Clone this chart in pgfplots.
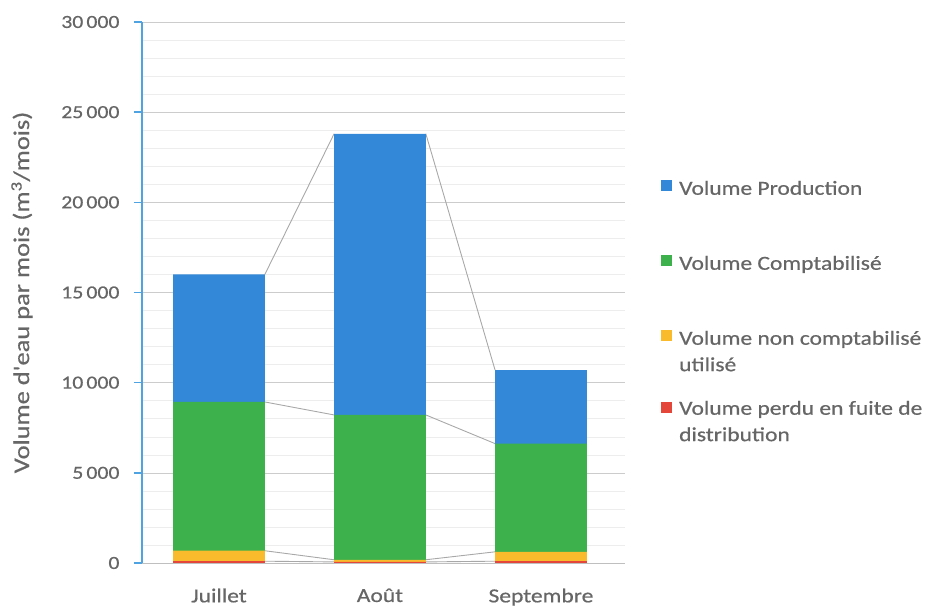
\documentclass[border=0pt]{standalone}
\usepackage{fontspec}
\setmainfont{Carlito}
\newfontfamily\wf[FakeStretch=1.18,FakeBold=0.6]{Carlito}
\usepackage{pgfplots}
\pgfplotsset{compat=1.18}
\definecolor{cblue}{HTML}{3488D8}
\definecolor{cgreen}{HTML}{3DB14B}
\definecolor{corange}{HTML}{F9BB2B}
\definecolor{cred}{HTML}{E5463A}
\definecolor{ctext}{HTML}{666666}
\definecolor{caxis}{HTML}{4FA3E0}
\definecolor{cseries}{HTML}{A8A8A8}
\begin{document}
\begin{tikzpicture}
\useasboundingbox (-142bp,-48bp) rectangle (809bp,563bp);
\begin{axis}[
  at={(0,0)}, anchor=south west,
  scale only axis, width=483bp, height=541bp,
  xmin=-0.478, xmax=2.522, ymin=0, ymax=30000,
  ybar, bar width=0.57, bar shift=0pt,
  xtick={0,1,2}, xticklabels={Juillet,Août,Septembre},
  ytick={0,5000,...,30000},
  scaled y ticks=false,
  minor y tick num=4,
  ymajorgrids, yminorgrids,
  major grid style={black!20, line width=0.6pt},
  minor grid style={black!7, line width=0.5pt},
  separate axis lines,
  axis x line*=bottom, axis y line*=left,
  every outer x axis line/.append style={draw=black!25, line width=0.7pt},
  every outer y axis line/.append style={draw=caxis, line width=1.8pt},
  xtick style={draw=none},
  every y tick/.append style={draw=caxis, line width=1.5pt},
  major tick length=8bp, minor tick length=0pt, tick align=outside,
  /pgf/number format/1000 sep={\,},
  /pgf/number format/assume math mode=true,
  yticklabel style={font=\wf\fontsize{18.5}{21}\selectfont, text=ctext, xshift=-11bp},
  xticklabel style={font=\wf\fontsize{20}{24}\selectfont, text=ctext, yshift=-14bp},
  ylabel={Volume d'eau par mois (m\textsuperscript{3}/mois)},
  ylabel style={at={(axis description cs:-0.2484,0.5)}, anchor=center, font=\wf\fontsize{22.5}{26}\selectfont, text=ctext},
  legend style={at={(axis description cs:1.0745,0.718)}, anchor=north west, draw=none, fill=none, inner sep=0pt,
    font=\wf\fontsize{20}{26.5}\selectfont, text=ctext, row sep=53.5bp, column sep=7bp,
    nodes={inner sep=0pt},
    cells={anchor=west}},
]
% series lines
\addplot[sharp plot, cseries, line width=0.9pt, forget plot, unbounded coords=jump] coordinates {(0.285,16000) (0.715,23800) (1,nan) (1.285,23800) (1.715,10700)};
\addplot[sharp plot, cseries, line width=0.9pt, forget plot, unbounded coords=jump] coordinates {(0.285,8930) (0.715,8210) (1,nan) (1.285,8210) (1.715,6620)};
\addplot[sharp plot, cseries, line width=0.9pt, forget plot, unbounded coords=jump] coordinates {(0.285,680) (0.715,180) (1,nan) (1.285,180) (1.715,620)};
\addplot[sharp plot, cseries, line width=0.9pt, forget plot, unbounded coords=jump] coordinates {(0.285,100) (0.715,60) (1,nan) (1.285,60) (1.715,100)};
% bars (cumulative heights, drawn back to front)
\addplot[fill=cblue, draw=none, legend image code/.code={\fill[cblue] (0bp,-5.5bp) rectangle (11bp,5.5bp);}] coordinates {(0,16000) (1,23800) (2,10700)};
\addplot[fill=cgreen, draw=none, legend image code/.code={\fill[cgreen] (0bp,-5.5bp) rectangle (11bp,5.5bp);}] coordinates {(0,8930) (1,8210) (2,6620)};
\addplot[fill=corange, draw=none, legend image code/.code={\fill[corange] (0bp,-5.5bp) rectangle (11bp,5.5bp);}] coordinates {(0,680) (1,180) (2,620)};
\addplot[fill=cred, draw=none, legend image code/.code={\fill[cred] (0bp,-5.5bp) rectangle (11bp,5.5bp);}] coordinates {(0,100) (1,60) (2,100)};
\legend{{\rule[-7bp]{0pt}{27bp}Volume Production},
  {\rule[-7bp]{0pt}{27bp}Volume Comptabilisé},
  {\rule[-7bp]{0pt}{27bp}\smash{\begin{tabular}[t]{@{}l@{}}Volume non comptabilisé\\utilisé\end{tabular}}},
  {\rule[-2bp]{0pt}{17bp}\smash{\begin{tabular}[t]{@{}l@{}}Volume perdu en fuite de\\distribution\end{tabular}}}}
\end{axis}
\end{tikzpicture}
\end{document}
